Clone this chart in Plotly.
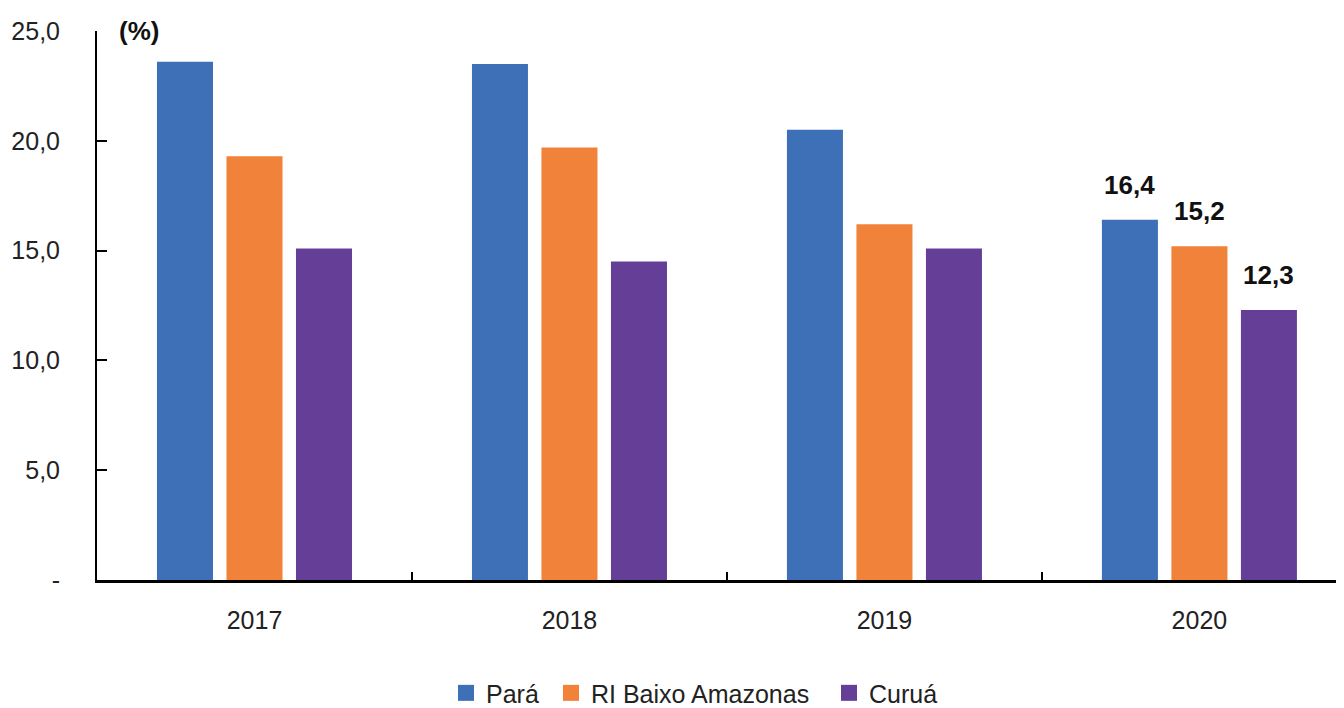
import plotly.graph_objects as go

years = ["2017", "2018", "2019", "2020"]
para = [23.6, 23.5, 20.5, 16.4]
ri_baixo = [19.3, 19.7, 16.2, 15.2]
curua = [15.1, 14.5, 15.1, 12.3]

series_names = ["Pará", "RI Baixo Amazonas", "Curuá"]
colors = ["#3E70B8", "#F08239", "#653F97"]
labelled_year = "2020"
y_ticks = [0, 5, 10, 15, 20, 25]
y_ticktext = ["-", "5,0", "10,0", "15,0", "20,0", "25,0"]

FONT = "Liberation Sans, Arial, sans-serif"
W, H = 1336, 700          # page body has an 8px margin
ML, MT, MB, MR = 89, 23, 128, 0
plot_w = W - ML - MR
x_range = [-0.5, 3.459]
px_per_cat = plot_w / (x_range[1] - x_range[0])
bargap, bargroupgap = 0.338, 0.194
slot_px = px_per_cat * (1 - bargap) / 3
legend_text_starts = [483, 588, 866]   # figure px where each legend label starts
legend_keys = ["legend", "legend2", "legend3"]

fig = go.Figure()
all_series = [para, ri_baixo, curua]
for name, vals, col, lk in zip(series_names, all_series, colors, legend_keys):
    fig.add_trace(go.Bar(
        x=years, y=vals, name=name, marker=dict(color=col, line=dict(width=0)),
        showlegend=False,
    ))
    # legend proxy with a larger square symbol
    fig.add_trace(go.Scatter(
        x=[None], y=[None], mode="markers", name=name, legend=lk,
        marker=dict(symbol="square", size=17, color=col),
    ))

annotations = [dict(text="<b>(%)</b>", x=(109 - ML) / plot_w, xref="paper", y=25, yref="y",
                    showarrow=False, xanchor="left", yanchor="middle",
                    font=dict(family=FONT, size=26, color="#111111"))]
for i, vals in enumerate(all_series):
    for k, (yr, v) in enumerate(zip(years, vals)):
        if yr == labelled_year:
            annotations.append(dict(
                text="<b>" + ("%.1f" % v).replace(".", ",") + "</b>",
                x=k, y=v, xref="x", yref="y", showarrow=False,
                xanchor="center", yanchor="bottom",
                xshift=(i - 1) * slot_px, yshift=18,
                font=dict(family=FONT, size=26, color="#111111")))

legend_layouts = {}
for lk, ts in zip(legend_keys, legend_text_starts):
    legend_layouts[lk] = dict(
        orientation="h", x=(ts - 45 - ML) / plot_w, xanchor="left",
        y=-0.206, yanchor="middle",
        font=dict(family=FONT, size=25, color="#222222"), itemclick=False,
        bgcolor="rgba(0,0,0,0)")

fig.update_layout(
    width=W, height=H,
    margin=dict(l=ML, r=MR, t=MT, b=MB, autoexpand=False),
    plot_bgcolor="white", paper_bgcolor="white",
    barmode="group", bargap=bargap, bargroupgap=bargroupgap,
    font=dict(family=FONT, size=25, color="#222222"),
    showlegend=True,
    annotations=annotations,
    **legend_layouts,
)

fig.update_xaxes(
    type="category", range=x_range, automargin=False,
    showline=True, linecolor="black", linewidth=3,
    ticks="inside", tickson="boundaries", ticklen=8, tickwidth=2, tickcolor="black",
    showgrid=False, ticklabelstandoff=16,
    tickfont=dict(family=FONT, size=25, color="#222222"),
)
fig.update_yaxes(
    range=[0, 25], tickvals=y_ticks, ticktext=y_ticktext, automargin=False,
    showline=True, linecolor="black", linewidth=2,
    ticks="inside", ticklen=10, tickwidth=2, tickcolor="black",
    showgrid=False, zeroline=False, ticklabelstandoff=30,
    tickfont=dict(family=FONT, size=25, color="#222222"),
)

fig.write_html("out.html")
